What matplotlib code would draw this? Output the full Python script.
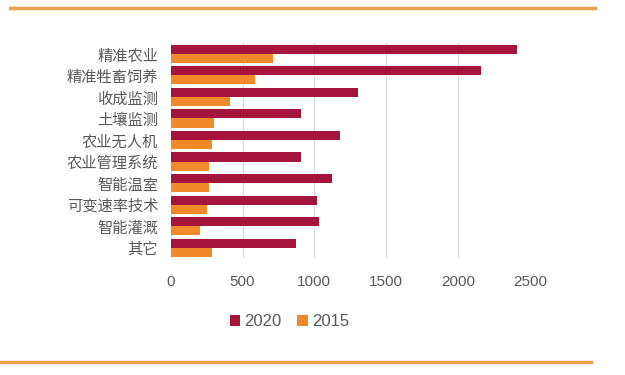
import matplotlib
matplotlib.use('Agg')
import numpy as np
from matplotlib import pyplot as plt
from matplotlib.lines import Line2D

plt.rcParams['font.family'] = ['Noto Sans CJK SC', 'DejaVu Sans']

# Data
categories = ['精准农业', '精准牲畜饲养', '收成监测', '土壤监测', '农业无人机',
              '农业管理系统', '智能温室', '可变速率技术', '智能灌溉', '其它']
values_2020 = [2410, 2160, 1300, 910, 1175, 910, 1120, 1020, 1035, 875]
values_2015 = [715, 590, 410, 305, 285, 270, 270, 255, 205, 285]
x_ticks = [0, 500, 1000, 1500, 2000, 2500]

red = '#A5143C'
orange = '#F0892A'
grey = '#595959'

fig = plt.figure(figsize=(6.25, 3.75), dpi=100)
ax = fig.add_axes([0.273, 0.311, 0.575, 0.574])

y = np.arange(len(categories))
h = 0.42
ax.barh(y - h / 2, values_2020, height=h, color=red, label='2020')
ax.barh(y + h / 2, values_2015, height=h, color=orange, label='2015')

ax.set_ylim(len(categories) - 0.5, -0.5)
ax.set_xlim(0, 2500)
ax.set_yticks(y)
ax.set_yticklabels(categories, fontsize=11, color=grey)
ax.set_xticks(x_ticks)
ax.set_xticklabels([str(t) for t in x_ticks], fontsize=11, color=grey,
                   family=['Liberation Sans', 'DejaVu Sans'])
ax.tick_params(axis='y', length=0, pad=9)
ax.tick_params(axis='x', length=0, pad=12)
ax.xaxis.grid(True, color='#D9D9D9', linewidth=0.8)
ax.set_axisbelow(True)
for s in ax.spines.values():
    s.set_visible(False)

ax.legend(loc='upper center', bbox_to_anchor=(0.33, -0.19), ncol=2, frameon=False,
          prop={'family': ['Liberation Sans', 'DejaVu Sans'], 'size': 12},
          handlelength=0.65, handleheight=0.65, handletextpad=0.25,
          columnspacing=0.9, labelcolor=grey)

# orange frame lines at top and bottom
fig.add_artist(Line2D([0.016, 0.952], [0.978, 0.978], color='#E9A050', linewidth=2.5))
fig.add_artist(Line2D([0.0, 0.945], [0.035, 0.035], color='#E9A050', linewidth=2.5))

fig.savefig('out.png', dpi=100)
